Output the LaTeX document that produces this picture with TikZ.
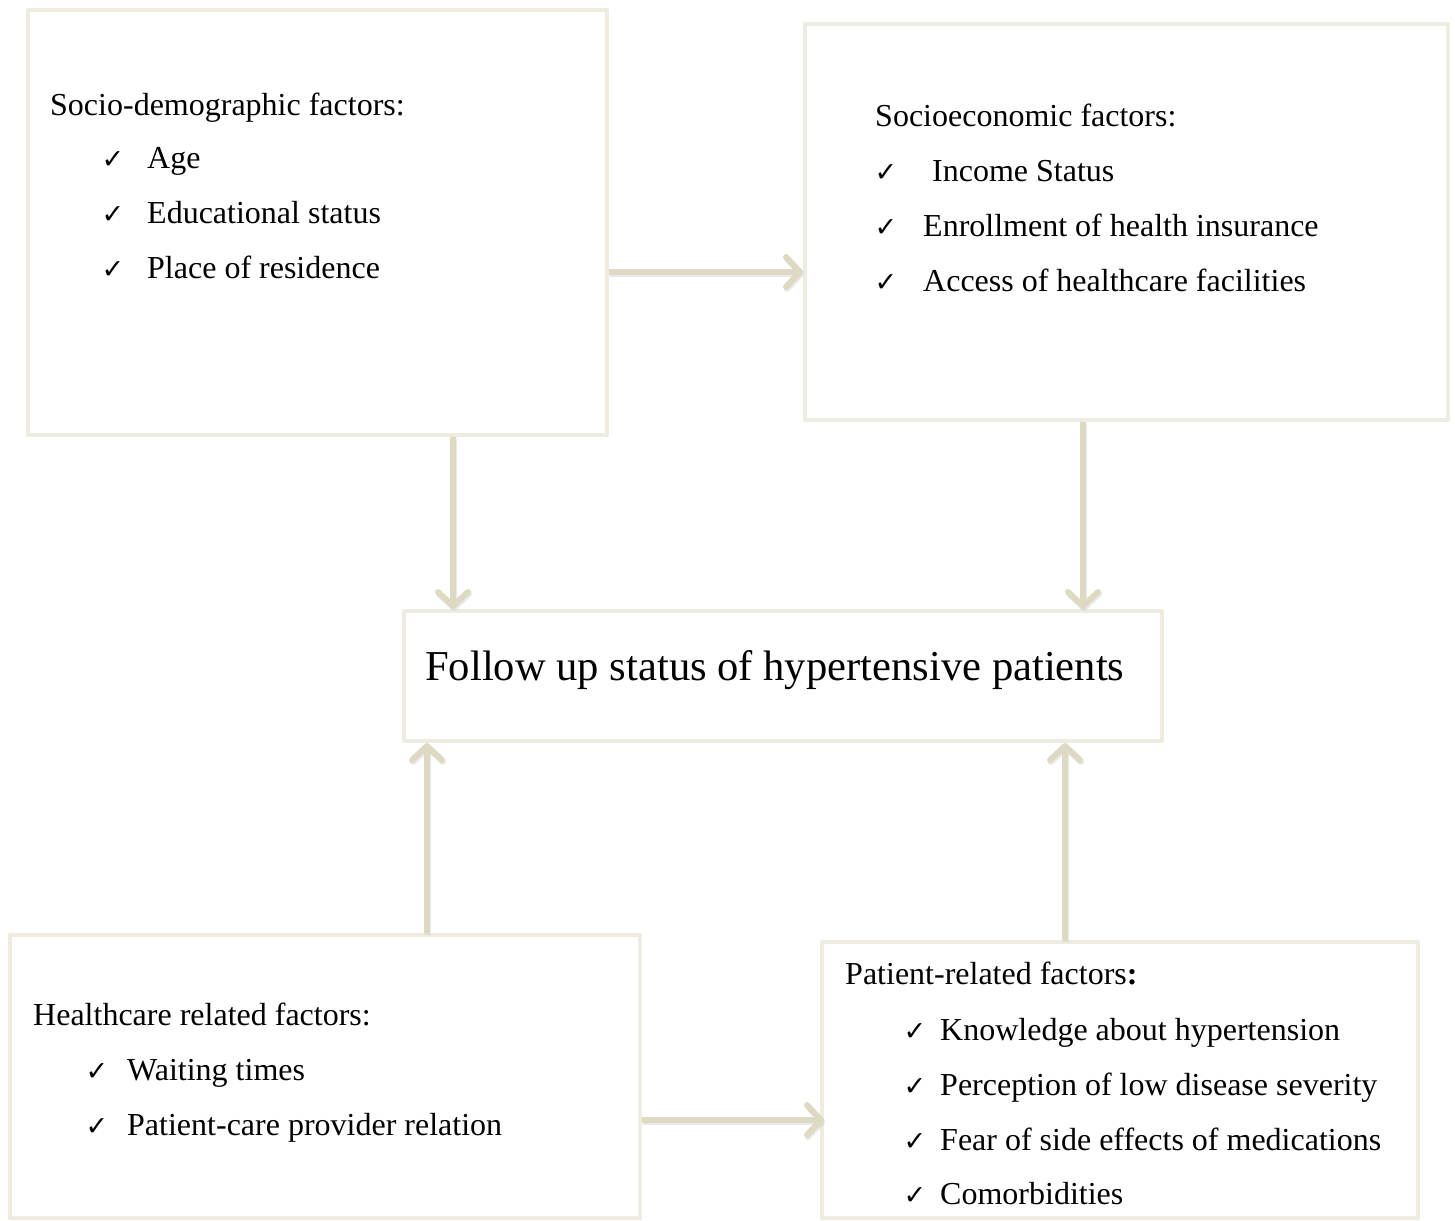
\documentclass[tikz,border=0pt]{standalone}
\usepackage{fontspec}
\setmainfont{Liberation Serif}
\newfontfamily\symf{DejaVu Sans}
\usetikzlibrary{arrows.meta}
\definecolor{boxline}{HTML}{EEECE1}
\definecolor{arrline}{HTML}{DDD9C3}
\tikzset{
  box/.style={draw=boxline, line width=4pt, fill=white, inner sep=0pt, line join=round},
  arr/.style={draw=arrline, line width=6pt, -{Straight Barb[length=14pt,width=30pt,line cap=round,line join=round]}},
  arrshadow/.style={draw=black!25, opacity=0.35, line width=6pt, -{Straight Barb[length=14pt,width=30pt,line cap=round,line join=round]}, transform canvas={xshift=1pt,yshift=-2pt}},
  txt/.style={anchor=base west, inner sep=0pt, font=\fontsize{32}{38}\selectfont},
  big/.style={anchor=base west, inner sep=0pt, font=\fontsize{42.6}{50}\selectfont},
  chk/.style={anchor=base, inner sep=0pt, font=\symf\bfseries\fontsize{27}{32}\selectfont}
}
\begin{document}
\begin{tikzpicture}[x=1pt, y=-1pt]
\useasboundingbox (0,0) rectangle (1455,1220);
% boxes
\node[box, minimum width=579pt, minimum height=425pt] (A) at (317.5,222.5) {};
\node[box, minimum width=643pt, minimum height=396pt] (B) at (1126.5,222) {};
\node[box, minimum width=758pt, minimum height=130pt] (C) at (783,676) {};
\node[box, minimum width=630pt, minimum height=283pt] (D) at (325,1076.5) {};
\node[box, minimum width=596pt, minimum height=276pt] (E) at (1120,1080) {};
% arrow shadows
\draw[arrshadow] (A.east |- 0,272) -- (B.west |- 0,272);
\draw[arrshadow] (A.south -| 453,0) -- (C.north -| 453,0);
\draw[arrshadow] (B.south -| 1083,0) -- (C.north -| 1083,0);
\draw[arrshadow] (D.north -| 427,0) -- (C.south -| 427,0);
\draw[arrshadow] (E.north -| 1065,0) -- (C.south -| 1065,0);
\draw[arrshadow] (D.east |- 0,1120) -- ([xshift=4pt]E.west |- 0,1120);
% arrows
\draw[arr] (A.east |- 0,272) -- (B.west |- 0,272);
\draw[arr] (A.south -| 453,0) -- (C.north -| 453,0);
\draw[arr] (B.south -| 1083,0) -- (C.north -| 1083,0);
\draw[arr] (D.north -| 427,0) -- (C.south -| 427,0);
\draw[arr] (E.north -| 1065,0) -- (C.south -| 1065,0);
\draw[arr] (D.east |- 0,1120) -- ([xshift=4pt]E.west |- 0,1120);
% box A text
\node[txt] (a0) at (50,116) {Socio-demographic factors:};
\node[chk] (ac1) at (113,168) {✓};
\node[txt] (a1) at (147,168) {Age};
\node[chk] (ac2) at (113,223) {✓};
\node[txt] (a2) at (147,223) {Educational status};
\node[chk] (ac3) at (113,278) {✓};
\node[txt] (a3) at (147,278) {Place of residence};
% box B text
\node[txt] (b0) at (875,126) {Socioeconomic factors:};
\node[chk] (bc1) at (886,181) {✓};
\node[txt] (b1) at (932,181) {Income Status};
\node[chk] (bc2) at (886,236) {✓};
\node[txt] (b2) at (923,236) {Enrollment of health insurance};
\node[chk] (bc3) at (886,291) {✓};
\node[txt] (b3) at (923,291) {Access of healthcare facilities};
% center
\node[big] (c0) at (425,680) {Follow up status of hypertensive patients};
% box D text
\node[txt] (d0) at (33,1025) {Healthcare related factors:};
\node[chk] (dc1) at (97,1080) {✓};
\node[txt] (d1) at (127,1080) {Waiting times};
\node[chk] (dc2) at (97,1135) {✓};
\node[txt] (d2) at (127,1135) {Patient-care provider relation};
% box E text
\node[txt] (e0) at (845,984) {Patient-related factors\textbf{:}};
\node[chk] (ec1) at (915,1040) {✓};
\node[txt] (e1) at (940,1040) {Knowledge about hypertension};
\node[chk] (ec2) at (915,1095) {✓};
\node[txt] (e2) at (940,1095) {Perception of low disease severity};
\node[chk] (ec3) at (915,1150) {✓};
\node[txt] (e3) at (940,1150) {Fear of side effects of medications};
\node[chk] (ec4) at (915,1204) {✓};
\node[txt] (e4) at (940,1204) {Comorbidities};
\end{tikzpicture}
\end{document}
